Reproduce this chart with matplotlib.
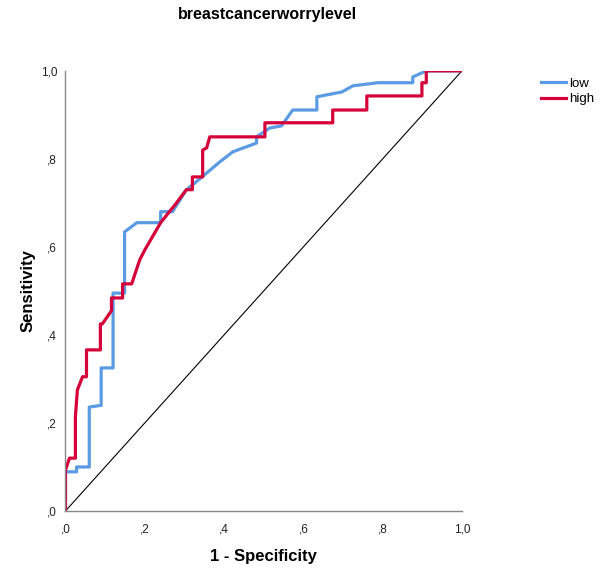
import matplotlib.pyplot as plt
from matplotlib.ticker import FuncFormatter

# ROC curve vertices (1 - specificity, sensitivity)
low_fpr = [0, 0, 0.028, 0.028, 0.06, 0.06, 0.09, 0.09, 0.12, 0.12, 0.149, 0.149,
           0.18, 0.24, 0.24, 0.27, 0.305, 0.33, 0.389, 0.422, 0.482, 0.482,
           0.515, 0.545, 0.573, 0.634, 0.634, 0.697, 0.725, 0.788, 0.876, 0.876,
           0.91, 1.0]
low_tpr = [0, 0.089, 0.089, 0.1, 0.1, 0.236, 0.24, 0.325, 0.325, 0.495, 0.495, 0.634,
           0.655, 0.655, 0.68, 0.68, 0.73, 0.748, 0.793, 0.816, 0.836, 0.85,
           0.87, 0.875, 0.911, 0.911, 0.941, 0.952, 0.966, 0.973, 0.973, 0.986,
           1.0, 1.0]

high_fpr = [0, 0, 0.01, 0.025, 0.025, 0.03, 0.043, 0.053, 0.053, 0.088, 0.088,
            0.093, 0.116, 0.116, 0.144, 0.144, 0.167, 0.187, 0.2, 0.24, 0.28,
            0.305, 0.32, 0.32, 0.346, 0.346, 0.356, 0.364, 0.503, 0.503, 0.674,
            0.674, 0.76, 0.76, 0.899, 0.899, 0.91, 0.91, 1.0]
high_tpr = [0, 0.093, 0.12, 0.12, 0.214, 0.275, 0.305, 0.305, 0.366, 0.366, 0.425,
            0.425, 0.455, 0.484, 0.484, 0.516, 0.516, 0.57, 0.593, 0.655, 0.70,
            0.73, 0.73, 0.759, 0.759, 0.82, 0.825, 0.85, 0.85, 0.882, 0.882,
            0.911, 0.911, 0.943, 0.943, 0.973, 0.973, 1.0, 1.0]

ticks = [0, 0.2, 0.4, 0.6, 0.8, 1.0]

plt.rcParams["font.family"] = ["Liberation Sans", "DejaVu Sans"]


def comma_fmt(v, pos):
    s = "%.1f" % v
    if s.startswith("0"):
        s = s[1:]
    return s.replace(".", ",")


fig = plt.figure(figsize=(6.03, 5.69), dpi=100)
ax = fig.add_axes([0.1086, 0.102, 0.6575, 0.7735])

ax.plot([0, 1], [0, 1], color="black", lw=0.8)
ax.plot(low_fpr, low_tpr, color="#5A9BE3", lw=2.3, label="low")
ax.plot(high_fpr, high_tpr, color="#D5003A", lw=2.3, label="high")

ax.set_xlim(0, 1)
ax.set_ylim(0, 1)
ax.set_xticks(ticks)
ax.set_yticks(ticks)
ax.xaxis.set_major_formatter(FuncFormatter(comma_fmt))
ax.yaxis.set_major_formatter(FuncFormatter(comma_fmt))
ax.tick_params(length=0, labelsize=8.5, colors="#222222")
ax.tick_params(axis="x", pad=9)
ax.tick_params(axis="y", pad=6)
for side in ["top", "right"]:
    ax.spines[side].set_visible(False)
for side in ["left", "bottom"]:
    ax.spines[side].set_color("#888888")
    ax.spines[side].set_linewidth(1.0)

ax.set_xlabel("1 - Specificity", fontsize=12, fontweight="bold", labelpad=10)
ax.set_ylabel("Sensitivity", fontsize=12, fontweight="bold", labelpad=4)
fig.text(0.443, 0.974, "breastcancerworrylevel", fontsize=11.5, fontweight="bold",
         ha="center", va="center")

ax.legend(loc="upper left", bbox_to_anchor=(1.17, 1.012), frameon=False,
          fontsize=9.5, handlelength=1.9, handletextpad=0.25, labelspacing=0.25)

fig.savefig("out.png", dpi=100)
